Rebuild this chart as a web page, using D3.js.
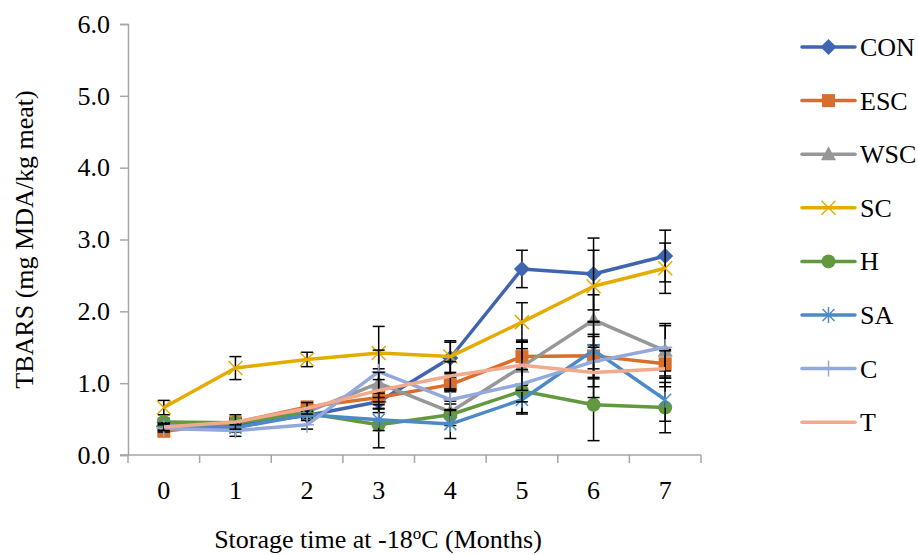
<!DOCTYPE html>
<html>
<head>
<meta charset="utf-8">
<script src="https://cdn.jsdelivr.net/npm/d3@7"></script>
<style>
  body { margin: 0; background: #fff; }
  svg text { font-family: "Times New Roman", "Liberation Serif", Times, "DejaVu Serif", serif !important; fill: #000; }
</style>
</head>
<body>
<div id="chart"></div>
<script>
// months on x axis
var months = ["0", "1", "2", "3", "4", "5", "6", "7"];
var yTicks = [0, 1, 2, 3, 4, 5, 6];

// series values
var CON = [0.40, 0.42, 0.55, 0.74, 1.35, 2.59, 2.52, 2.77];
var ESC = [0.33, 0.45, 0.67, 0.80, 0.98, 1.37, 1.38, 1.27];
var WSC = [0.45, 0.45, 0.60, 1.00, 0.60, 1.23, 1.88, 1.45];
var SC  = [0.66, 1.21, 1.33, 1.42, 1.37, 1.85, 2.35, 2.60];
var H   = [0.46, 0.45, 0.58, 0.42, 0.56, 0.89, 0.70, 0.66];
var SA  = [0.40, 0.38, 0.56, 0.49, 0.43, 0.77, 1.46, 0.77];
var C   = [0.37, 0.34, 0.42, 1.16, 0.77, 0.99, 1.30, 1.50];
var T   = [0.39, 0.46, 0.65, 0.90, 1.10, 1.25, 1.15, 1.20];

// error bar half-widths
var errCON = [0.05, 0.08, 0.05, 0.15, 0.22, 0.26, 0.50, 0.36];
var errESC = [0.03, 0.05, 0.05, 0.10, 0.10, 0.20, 0.30, 0.20];
var errWSC = [0.05, 0.05, 0.05, 0.20, 0.15, 0.25, 0.35, 0.35];
var errSC  = [0.10, 0.16, 0.10, 0.37, 0.22, 0.27, 0.50, 0.35];
var errH   = [0.05, 0.05, 0.05, 0.32, 0.15, 0.30, 0.50, 0.35];
var errSA  = [0.05, 0.06, 0.05, 0.15, 0.20, 0.20, 0.40, 0.30];
var errC   = [0.05, 0.08, 0.06, 0.30, 0.15, 0.25, 0.35, 0.33];
var errT   = [0.05, 0.10, 0.08, 0.25, 0.20, 0.35, 0.35, 0.25];

var seriesNames = ["CON", "ESC", "WSC", "SC", "H", "SA", "C", "T"];
var seriesValues = [CON, ESC, WSC, SC, H, SA, C, T];
var seriesErrors = [errCON, errESC, errWSC, errSC, errH, errSA, errC, errT];
var seriesColors = ["#3F65B0", "#D96D2A", "#979797", "#E4AC00", "#62993E", "#4D8AC5", "#93A9DC", "#F2A98C"];
var seriesMarkers = ["diamond", "square", "triangle", "x", "circle", "asterisk", "plus", "none"];

var width = 918, height = 555;
var margin = {left: 128, right: 217, top: 24, bottom: 100};
var fontSize = 26;

var svg = d3.select("#chart").append("svg")
    .attr("width", width)
    .attr("height", height);

var x = d3.scaleBand().domain(months).range([margin.left, 701]);
var y = d3.scaleLinear().domain([0, 6]).range([height - margin.bottom, margin.top]);

// y axis
var yAxis = svg.append("g")
    .attr("transform", "translate(" + margin.left + ",0)")
    .call(d3.axisLeft(y).tickValues(yTicks).tickFormat(d3.format(".1f")).tickSize(8).tickPadding(10));
yAxis.attr("font-family", null);
yAxis.select(".domain").attr("stroke", "#A6A6A6").attr("stroke-width", 1.5);
yAxis.selectAll(".tick line").attr("stroke", "#A6A6A6").attr("stroke-width", 1.5);
yAxis.selectAll(".tick text").attr("font-size", fontSize);

// x axis (ticks at band edges)
var xAxis = svg.append("g")
    .attr("transform", "translate(0," + y(0) + ")");
xAxis.append("line")
    .attr("x1", margin.left - 8).attr("x2", x.range()[1])
    .attr("stroke", "#A6A6A6").attr("stroke-width", 1.5);
var edges = months.map(function(m) { return x(m); }).concat([x.range()[1]]);
xAxis.selectAll(".edge").data(edges).enter().append("line")
    .attr("x1", function(d) { return d; }).attr("x2", function(d) { return d; })
    .attr("y1", 0).attr("y2", 8)
    .attr("stroke", "#A6A6A6").attr("stroke-width", 1.5);
xAxis.selectAll(".lbl").data(months).enter().append("text")
    .attr("x", function(d) { return x(d) + x.bandwidth() / 2; })
    .attr("y", 44)
    .attr("text-anchor", "middle")
    .attr("font-size", fontSize)
    .text(function(d) { return d; });

// axis titles
svg.append("text")
    .attr("transform", "translate(33," + y(3) + ") rotate(-90)")
    .attr("text-anchor", "middle")
    .attr("font-size", fontSize)
    .text("TBARS (mg MDA/kg meat)");

var xt = svg.append("text")
    .attr("x", 378).attr("y", 548)
    .attr("text-anchor", "middle")
    .attr("font-size", fontSize);
xt.append("tspan").text("Storage time at -18");
xt.append("tspan").attr("dy", -9).attr("font-size", 17).text("o");
xt.append("tspan").attr("dy", 9).text("C (Months)");

var cx = function(i) { return x(months[i]) + x.bandwidth() / 2; };

function drawMarker(g, type, color, px, py) {
    if (type === "diamond") {
        g.append("path").attr("d", "M0,-8L8,0L0,8L-8,0Z")
            .attr("transform", "translate(" + px + "," + py + ")").attr("fill", color);
    } else if (type === "square") {
        g.append("rect").attr("x", px - 6.5).attr("y", py - 6.5).attr("width", 13).attr("height", 13)
            .attr("fill", color);
    } else if (type === "triangle") {
        g.append("path").attr("d", "M0,-8L7.5,6L-7.5,6Z")
            .attr("transform", "translate(" + px + "," + py + ")").attr("fill", color);
    } else if (type === "circle") {
        g.append("circle").attr("cx", px).attr("cy", py).attr("r", 7).attr("fill", color);
    } else if (type === "x") {
        g.append("path").attr("d", "M-7,-7L7,7M-7,7L7,-7")
            .attr("transform", "translate(" + px + "," + py + ")")
            .attr("stroke", color).attr("stroke-width", 1.5).attr("fill", "none");
    } else if (type === "asterisk") {
        g.append("path").attr("d", "M-6,-6L6,6M-6,6L6,-6M0,-8L0,8")
            .attr("transform", "translate(" + px + "," + py + ")")
            .attr("stroke", color).attr("stroke-width", 1.5).attr("fill", "none");
    } else if (type === "plus") {
        g.append("path").attr("d", "M0,-8L0,8M-7,0L7,0")
            .attr("transform", "translate(" + px + "," + py + ")")
            .attr("stroke", color).attr("stroke-width", 1.5).attr("fill", "none");
    }
}

var line = d3.line()
    .x(function(d, i) { return cx(i); })
    .y(function(d) { return y(d); });

seriesNames.forEach(function(name, s) {
    var g = svg.append("g").attr("class", "series " + name);
    var vals = seriesValues[s], errs = seriesErrors[s], color = seriesColors[s];

    // error bars
    vals.forEach(function(v, i) {
        var px = cx(i), lo = y(v - errs[i]), hi = y(v + errs[i]);
        g.append("line").attr("x1", px).attr("x2", px).attr("y1", lo).attr("y2", hi)
            .attr("stroke", "#000").attr("stroke-width", 1.5);
        [lo, hi].forEach(function(yy) {
            g.append("line").attr("x1", px - 6).attr("x2", px + 6).attr("y1", yy).attr("y2", yy)
                .attr("stroke", "#000").attr("stroke-width", 1.5);
        });
    });

    g.append("path").datum(vals)
        .attr("d", line)
        .attr("fill", "none")
        .attr("stroke", color)
        .attr("stroke-width", 3.5)
        .attr("stroke-linejoin", "round");

    vals.forEach(function(v, i) { drawMarker(g, seriesMarkers[s], color, cx(i), y(v)); });
});

// legend
var legend = svg.append("g");
seriesNames.forEach(function(name, s) {
    var ly = 47 + s * 53.6;
    legend.append("line").attr("x1", 802).attr("x2", 855).attr("y1", ly).attr("y2", ly)
        .attr("stroke", seriesColors[s]).attr("stroke-width", 3.5).attr("stroke-linecap", "round");
    drawMarker(legend, seriesMarkers[s], seriesColors[s], 828.5, ly);
    legend.append("text").attr("x", 860).attr("y", ly + 9).attr("font-size", fontSize).text(name);
});
</script>
</body>
</html>
